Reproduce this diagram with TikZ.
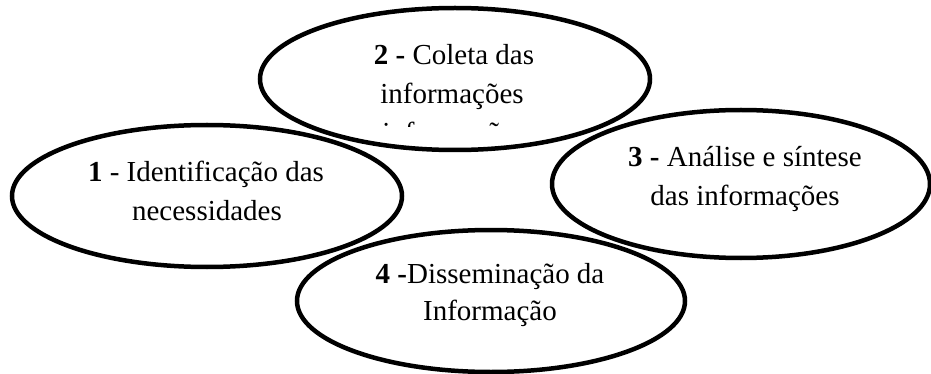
\documentclass[tikz,border=0pt]{standalone}
\usepackage{fontspec}
\setmainfont{Liberation Serif}
\usetikzlibrary{shapes.geometric}
\begin{document}
\begin{tikzpicture}[x=1pt,y=-1pt,
  bubble/.style={draw=black, line width=4.5pt, ellipse, inner sep=0pt, outer sep=0pt},
  lbl/.style={anchor=base, inner sep=0pt, font=\fontsize{29}{38}\selectfont}]
\useasboundingbox (0,0) rectangle (931,374);
% ellipses
\node[bubble, minimum width=390pt, minimum height=142pt] (e1) at (207,196) {};
\node[bubble, minimum width=390pt, minimum height=142pt] (e2) at (455,79) {};
\node[bubble, minimum width=378pt, minimum height=148pt] (e3) at (741,184) {};
\node[bubble, minimum width=388pt, minimum height=142pt] (e4) at (491,301) {};
% texts
\node[lbl] (t1a) at (206,182) {\textbf{1} - Identificação das};
\node[lbl] (t1b) at (207,220) {necessidades};
\node[lbl] (t2a) at (454,65) {\textbf{2 -} Coleta das};
\node[lbl] (t2b) at (452,104) {informações};
\begin{scope}
  \clip (300,110) rectangle (600,127);
  \node[lbl] (t2c) at (454,143) {informações};
\end{scope}
\node[lbl] (t3a) at (745,167) {\textbf{3 -} Análise e síntese};
\node[lbl] (t3b) at (745,205) {das informações};
\node[lbl] (t4a) at (490,283) {\textbf{4 -}Disseminação da};
\node[lbl] (t4b) at (490,320) {Informação};
\end{tikzpicture}
\end{document}
